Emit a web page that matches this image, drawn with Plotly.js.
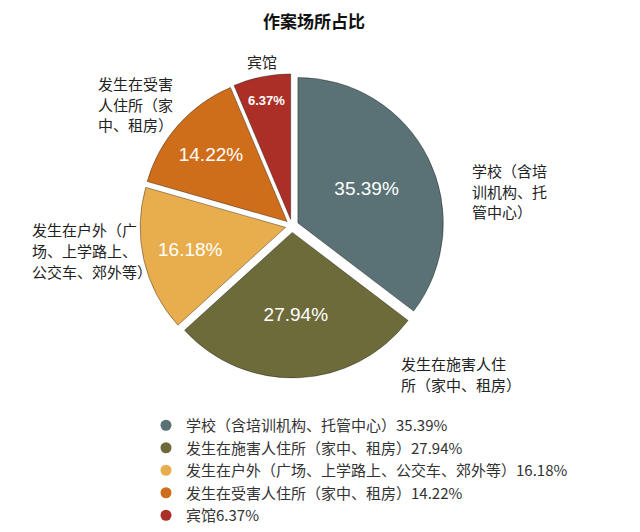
<!DOCTYPE html>
<html>
<head>
<meta charset="utf-8">
<script src="https://cdn.plot.ly/plotly-3.0.1.min.js"></script>
<style>html,body{margin:0;padding:0;background:#fff}#chart{width:640px;height:532px}</style>
</head>
<body>
<div id="chart"></div>
<script>
const categories = ["学校（含培训机构、托管中心）", "发生在施害人住所（家中、租房）", "发生在户外（广场、上学路上、公交车、郊外等）", "发生在受害人住所（家中、租房）", "宾馆"];
const labelLines = [["学校（含培", "训机构、托", "管中心）"], ["发生在施害人住", "所（家中、租房）"], ["发生在户外（广", "场、上学路上、", "公交车、郊外等）"], ["发生在受害", "人住所（家", "中、租房）"], ["宾馆"]];
const values = [35.39, 27.94, 16.18, 14.22, 6.37];
const colors = ["#5a7276", "#6d6b3a", "#e8ad4c", "#cf6e1a", "#ab2f27"];

const FONT = "'Noto Sans CJK SC', 'Noto Sans', sans-serif";

const pie = {
  type: 'pie',
  labels: categories,
  values: values,
  sort: false,
  direction: 'clockwise',
  rotation: 0,
  pull: values.map(() => 0.045),
  marker: {colors: colors, line: {color: 'rgba(0,0,0,0.35)', width: 1}},
  text: values.map(v => v.toFixed(2) + '%'),
  textinfo: 'text',
  texttemplate: values.map((v, i) => i === 4 ? '<b>' + v.toFixed(2) + '%</b>' : v.toFixed(2) + '%'),
  textposition: 'inside',
  insidetextorientation: 'horizontal',
  insidetextfont: {color: '#ffffff', family: "Liberation Sans, Arial, sans-serif", size: values.map((v, i) => i === 4 ? 13 : 19)},
  showlegend: false,
  hoverinfo: 'label+percent',
  domain: {x: [138.5/640, 445.5/640], y: [1 - 381.5/532, 1 - 74.5/532]}
};

const legendTraces = categories.map((c, i) => ({
  type: 'scatter',
  mode: 'markers',
  x: [null], y: [null],
  name: c + values[i].toFixed(2) + '%',
  marker: {color: colors[i], size: 11, symbol: 'circle'},
  showlegend: true,
  hoverinfo: 'skip'
}));

// label anchor positions (pixels): left x / center x, first line center y
const labelPos = [[470, 172, 'left'], [399, 367, 'left'], [30, 232, 'left'], [96, 84, 'left'], [262, 62, 'center']];
const LINE = 21;
const annotations = [];
labelLines.forEach((lines, i) => {
  lines.forEach((ln, j) => {
    annotations.push({
      text: ln,
      xref: 'paper', yref: 'paper',
      x: labelPos[i][0] / 640, y: 1 - (labelPos[i][1] + j * LINE) / 532,
      xanchor: labelPos[i][2], yanchor: 'middle',
      showarrow: false,
      font: {family: FONT, size: 15, color: '#222'}
    });
  });
});

const layout = {
  width: 640, height: 532,
  margin: {l: 0, r: 0, t: 0, b: 0},
  paper_bgcolor: '#ffffff', plot_bgcolor: '#ffffff',
  font: {family: FONT, color: '#333'},
  title: {text: '<b>作案场所占比</b>', x: 314/640, xanchor: 'center', y: 1 - 22/532, yanchor: 'middle', font: {family: FONT, size: 17, color: '#111'}},
  xaxis: {visible: false}, yaxis: {visible: false},
  showlegend: true,
  legend: {x: 146/640, y: 1 - 413/532, xanchor: 'left', yanchor: 'top', itemwidth: 30, font: {family: FONT, size: 15, color: '#333'}, traceorder: 'normal', bgcolor: 'rgba(0,0,0,0)'},
  annotations: annotations
};

Plotly.newPlot('chart', [pie].concat(legendTraces), layout, {displayModeBar: false, staticPlot: true});
</script>
</body>
</html>
